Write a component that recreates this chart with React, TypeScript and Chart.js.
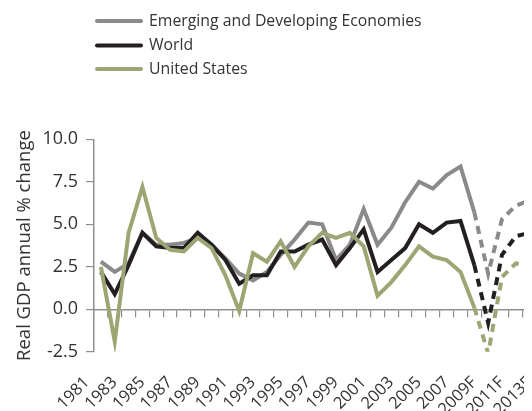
import React, { useEffect, useRef } from "react";
import { Chart, registerables } from "chart.js";

Chart.register(...registerables);

const years = [
  "1981", "1982", "1983", "1984", "1985", "1986", "1987", "1988", "1989", "1990",
  "1991", "1992", "1993", "1994", "1995", "1996", "1997", "1998", "1999", "2000",
  "2001", "2002", "2003", "2004", "2005", "2006", "2007", "2008",
  "2009F", "2010F", "2011F", "2012F", "2013F",
];

// Actual values 1981-2008
const emergingActual = [2.8, 2.2, 2.7, 4.5, 3.8, 3.8, 3.9, 4.2, 3.8, 3.0, 2.1, 1.7, 2.2, 3.2, 4.1, 5.1, 5.0, 2.9, 3.8, 5.9, 3.8, 4.8, 6.3, 7.5, 7.1, 7.9, 8.4, 5.7];
const worldActual = [2.2, 0.9, 2.6, 4.5, 3.7, 3.6, 3.6, 4.5, 3.8, 2.9, 1.5, 2.0, 2.0, 3.4, 3.4, 3.8, 4.1, 2.6, 3.6, 4.7, 2.2, 2.9, 3.6, 5.0, 4.5, 5.1, 5.2, 2.6];
const usActual = [2.5, -1.9, 4.5, 7.2, 4.2, 3.5, 3.4, 4.2, 3.6, 2.0, -0.1, 3.3, 2.8, 4.0, 2.5, 3.7, 4.5, 4.2, 4.5, 3.7, 0.8, 1.6, 2.6, 3.7, 3.1, 2.9, 2.2, 0.1];

// Forecast values 2008 (join point), 2009F-2013F
const emergingForecast = [5.7, 2.1, 5.3, 6.1, 6.4, 6.6];
const worldForecast = [2.6, -0.8, 3.2, 4.3, 4.5, 4.6];
const usForecast = [0.1, -2.6, 1.9, 2.7, 2.6, 2.6];

const seriesNames = ["Emerging and Developing Economies", "World", "United States"];
const seriesColors = ["#8a8a8a", "#231f20", "#9da673"];

const yTicks = [-2.5, 0, 2.5, 5, 7.5, 10];
const yTitle = "Real GDP annual % change";

const FONT = "'Open Sans', 'DejaVu Sans', sans-serif";
const TEXT = "#333333";
const AXIS = "#8f8f8f";

function solid(actual: number[]): (number | null)[] {
  return [...actual, ...Array(years.length - actual.length).fill(null)];
}
function dashed(forecast: number[]): (number | null)[] {
  return [...Array(years.length - forecast.length).fill(null), ...forecast];
}

const legendPlugin = {
  id: "stackedLegend",
  afterDraw(chart: any) {
    const ctx = chart.ctx as CanvasRenderingContext2D;
    ctx.save();
    ctx.font = `15.8px ${FONT}`;
    ctx.textBaseline = "middle";
    ctx.textAlign = "left";
    const rowY = [13, 37.5, 61];
    seriesNames.forEach((name, i) => {
      const y = rowY[i];
      ctx.strokeStyle = seriesColors[i];
      ctx.lineWidth = 4;
      ctx.lineCap = "round";
      ctx.beginPath();
      ctx.moveTo(89, y);
      ctx.lineTo(133, y);
      ctx.stroke();
      ctx.fillStyle = TEXT;
      ctx.fillText(name, 141, y);
    });
    ctx.restore();
  },
};

export default function App() {
  const ref = useRef<HTMLCanvasElement | null>(null);

  useEffect(() => {
    if (!ref.current) return;
    const actuals = [emergingActual, worldActual, usActual];
    const forecasts = [emergingForecast, worldForecast, usForecast];
    const orders = [3, 2, 1];
    const datasets: any[] = [];
    for (let i = 0; i < 3; i++) {
      datasets.push({
        label: seriesNames[i],
        data: solid(actuals[i]),
        borderColor: seriesColors[i],
        backgroundColor: seriesColors[i],
        borderWidth: 4,
        pointRadius: 0,
        tension: 0,
        fill: false,
        borderJoinStyle: "miter",
        borderCapStyle: "butt",
        order: orders[i],
        xAxisID: "x",
      });
      datasets.push({
        label: seriesNames[i] + " (forecast)",
        data: dashed(forecasts[i]),
        borderColor: seriesColors[i],
        backgroundColor: seriesColors[i],
        borderWidth: 4,
        borderDash: [8, 6],
        pointRadius: 0,
        tension: 0,
        fill: false,
        borderCapStyle: "butt",
        order: orders[i],
        xAxisID: "x",
      });
    }

    const chart = new Chart(ref.current, {
      type: "line",
      data: { labels: years, datasets },
      plugins: [legendPlugin],
      options: {
        responsive: false,
        animation: false,
        events: [],
        layout: { padding: { top: 131.3, right: 9.6, bottom: 0, left: 0 } },
        plugins: {
          legend: { display: false },
          tooltip: { enabled: false },
          title: { display: false },
        },
        scales: {
          x: {
            type: "category",
            position: "bottom",
            offset: true,
            grid: { display: false, drawTicks: false, offset: true },
            border: { display: false },
            afterFit: (s: any) => {
              s.height = 59.2;
              s.paddingLeft = 0;
              s.paddingRight = 0;
            },
            ticks: {
              autoSkip: false,
              maxRotation: 45,
              minRotation: 45,
              padding: 21,
              labelOffset: -14,
              color: TEXT,
              font: { family: FONT, size: 16.5 },
              callback: (_v: any, i: number) => (i % 2 === 0 ? years[i] : ""),
            },
          },
          x0: {
            type: "category",
            labels: years,
            position: { y: 0 } as any,
            offset: true,
            grid: {
              display: true,
              drawOnChartArea: false,
              drawTicks: true,
              tickLength: 7,
              offset: true,
              color: AXIS,
              lineWidth: 1.2,
            },
            border: { display: true, color: AXIS, width: 1.5 },
            ticks: { display: false, autoSkip: false },
          },
          y: {
            position: "left",
            min: -2.5,
            max: 10,
            afterFit: (s: any) => {
              s.width = 86;
            },
            afterBuildTicks: (s: any) => {
              s.ticks = yTicks.map((v) => ({ value: v }));
            },
            grid: {
              display: true,
              drawOnChartArea: false,
              drawTicks: true,
              tickLength: 8,
              color: AXIS,
              lineWidth: 1.2,
            },
            border: { display: true, color: AXIS, width: 1.5 },
            ticks: {
              padding: 8,
              color: TEXT,
              font: { family: FONT, size: 18 },
              callback: (v: any) => Number(v).toFixed(1),
            },
            title: {
              display: true,
              text: yTitle,
              color: TEXT,
              font: { family: FONT, size: 18.5 },
              padding: { top: 6, bottom: 0 },
            },
          },
        },
      } as any,
    });
    return () => chart.destroy();
  }, []);

  return (
    <div style={{ width: 524, height: 403, overflow: "hidden", position: "relative" }}>
      <canvas ref={ref} width={552} height={403} style={{ display: "block", width: 552, height: 403 }} />
    </div>
  );
}
